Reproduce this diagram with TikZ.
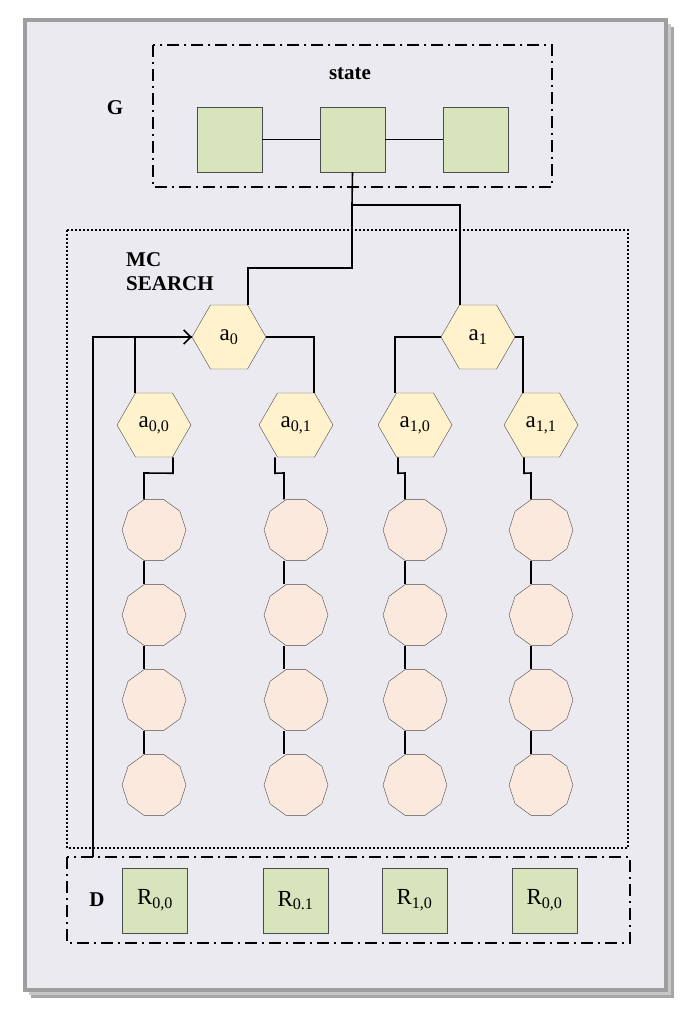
\documentclass[tikz,border=0pt]{standalone}
\usepackage{fontspec}
\setmainfont{Liberation Serif}
\usetikzlibrary{shapes.geometric,calc,arrows.meta}
\definecolor{panel}{HTML}{ECEAF1}
\definecolor{gsq}{HTML}{D8E4BC}
\definecolor{hexf}{HTML}{FFF2CC}
\definecolor{decf}{HTML}{FBE9DD}
\tikzset{
 sq/.style={draw=black!70,fill=gsq,minimum size=65pt,inner sep=0pt,font=\fontsize{23}{26}\selectfont},
 hexn/.style={regular polygon,regular polygon sides=6,draw=black!70,fill=hexf,minimum size=74pt,inner sep=0pt,font=\fontsize{23}{26}\selectfont},
 decn/.style={regular polygon,regular polygon sides=10,draw=black!70,fill=decf,minimum size=64pt,inner sep=0pt},
 conn/.style={line width=1.6pt},
 dashdot/.style={line width=1.4pt,dash pattern=on 12pt off 5pt on 2pt off 5pt},
 dotbox/.style={line width=1.4pt,dash pattern=on 2pt off 2pt},
 lbl/.style={font=\bfseries\fontsize{21}{24}\selectfont,align=left}
}
\begin{document}
\begin{tikzpicture}[x=1pt,y=-1pt]
\useasboundingbox (0,0) rectangle (685,1009);
\fill[white] (0,0) rectangle (685,1009);
\fill[black!35] (31,27) rectangle (674,998);
\fill[black!22] (29,24) rectangle (671,995);
\draw[fill=panel,draw=black!38,line width=4pt] (25,20) rectangle (666,990);
% G box
\draw[dashdot] (153,45) rectangle (552,187);
\node[lbl] (state) at (350,74) {state};
\node[lbl] (G) at (115,108) {G};
\node[sq] (s1) at (229.5,139.5) {};
\node[sq] (s2) at (352.5,139.5) {};
\node[sq] (s3) at (475.5,139.5) {};
\draw[conn] (s1) -- (s2) (s2) -- (s3);
% MC box
\draw[dotbox] (67,230) rectangle (628,848);
\node[lbl] (mc) at (170,272) {MC\\SEARCH};
% hexes
\node[hexn] (a0) at (229,337) {a\textsubscript{0}};
\node[hexn] (a1) at (478,337) {a\textsubscript{1}};
\node[hexn] (a00) at (154,425) {a\textsubscript{0,0}};
\node[hexn] (a01) at (296,425) {a\textsubscript{0,1}};
\node[hexn] (a10) at (415,425) {a\textsubscript{1,0}};
\node[hexn] (a11) at (541,425) {a\textsubscript{1,1}};
\coordinate (j) at (352,205);
\draw[conn] (s2.south) -- (j) -| ([xshift=-18pt]a1.north);
\draw[conn] (j) -- (352,268) -| ([xshift=19pt]a0.north);
\draw[conn] (a0.west) -| ([xshift=-19pt]a00.north);
\draw[conn] (a0.east) -| ([xshift=18pt]a01.north);
\draw[conn] (a1.west) -| ([xshift=-20pt]a10.north);
\draw[conn] (a1.east) -| ([xshift=-18pt]a11.north);
% chains
\foreach \n/\c/\top/\dx in {a00/154/19/-10, a01/296/-21/-12, a10/415/-17/-10, a11/541/-17/-10}{
  \foreach \k/\yy in {1/530,2/615,3/700,4/785}{
    \node[decn] (\n c\k) at (\c,\yy) {};
  }
  \draw[conn] ([xshift=\top pt]\n.south) -- ++(0,16) -- (\c+\dx,473) -- ([xshift=\dx pt]\n c1.north);
  \foreach \k/\m in {1/2,2/3,3/4}{
    \draw[conn] ([xshift=\dx pt]\n c\k.south) -- ([xshift=\dx pt]\n c\m.north);
  }
}
% D box
\draw[dashdot] (67,857) rectangle (630,943);
\node[lbl] (D) at (97,900) {D};
\node[sq] (r1) at (155,900.5) {R\textsubscript{0,0}};
\node[sq] (r2) at (295.5,900.5) {R\textsubscript{0.1}};
\node[sq] (r3) at (414.5,900.5) {R\textsubscript{1,0}};
\node[sq] (r4) at (544.5,900.5) {R\textsubscript{0,0}};
% feedback
\coordinate (fb) at (93,857);
\draw[conn,-{Straight Barb[length=7pt,width=14pt]}] (fb) -- (93,337) -- (a0.west);
\end{tikzpicture}
\end{document}
